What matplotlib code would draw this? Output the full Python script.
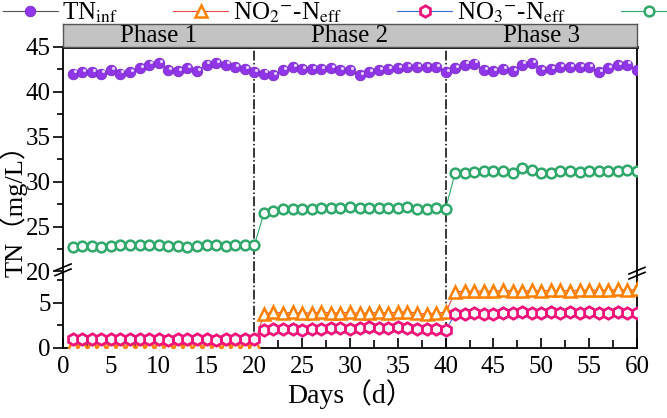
import numpy as np
import matplotlib
matplotlib.use("Agg")
import matplotlib.pyplot as plt
from matplotlib import transforms

plt.rcParams['font.family'] = ['Liberation Serif', 'Noto Sans CJK SC']
plt.rcParams['mathtext.fontset'] = 'stix'

days = list(range(1, 61))

tn_inf = [42.0, 42.2, 42.2, 42.0, 42.4, 42.0, 42.2, 42.6, 43.0, 43.2,
          42.4, 42.3, 42.6, 42.3, 43.0, 43.2, 43.0, 42.7, 42.5, 42.2,
          42.0, 41.8, 42.4, 42.7, 42.5, 42.5, 42.5, 42.6, 42.4, 42.4,
          41.8, 42.2, 42.4, 42.5, 42.6, 42.75, 42.75, 42.7, 42.75, 42.2,
          42.6, 43.0, 43.1, 42.4, 42.3, 42.5, 42.3, 43.0, 43.2, 42.4,
          42.5, 42.7, 42.7, 42.7, 42.7, 42.2, 42.6, 42.9, 43.0, 42.4]
tn_eff = [22.7, 22.8, 22.8, 22.7, 22.8, 22.9, 22.9, 23.0, 23.0, 22.9,
          22.8, 22.8, 22.7, 22.8, 22.9, 22.9, 22.8, 22.9, 23.0, 22.9,
          26.5, 26.7, 26.95, 26.95, 26.9, 26.95, 27.1, 27.05, 27.1, 27.2,
          27.05, 27.05, 27.05, 27.05, 27.1, 27.2, 26.95, 26.9, 27.1, 27.0,
          31.0, 31.0, 31.1, 31.2, 31.2, 31.2, 31.0, 31.45, 31.3, 31.0,
          31.0, 31.2, 31.2, 31.1, 31.2, 31.2, 31.2, 31.2, 31.3, 31.2]
no2_eff = [0.35, 0.35, 0.3, 0.35, 0.35, 0.3, 0.35, 0.35, 0.3, 0.35,
           0.35, 0.3, 0.35, 0.35, 0.3, 0.35, 0.35, 0.3, 0.35, 0.4,
           3.8, 3.95, 3.9, 3.95, 3.9, 3.9, 4.0, 3.9, 3.9, 3.95,
           3.85, 3.9, 3.95, 3.9, 3.95, 4.05, 3.85, 3.8, 3.9, 3.95,
           6.2, 6.35, 6.3, 6.35, 6.3, 6.4, 6.35, 6.3, 6.4, 6.35,
           6.4, 6.4, 6.35, 6.45, 6.4, 6.45, 6.4, 6.5, 6.45, 6.5]
no3_eff = [0.95, 1.0, 1.0, 0.95, 1.0, 0.95, 1.0, 1.05, 0.95, 0.95,
           0.9, 0.95, 1.0, 0.95, 0.95, 0.9, 0.95, 1.0, 0.95, 1.0,
           2.05, 2.15, 2.1, 2.15, 2.05, 2.1, 2.1, 2.2, 2.25, 2.15,
           2.2, 2.3, 2.2, 2.25, 2.3, 2.2, 2.15, 2.1, 2.1, 2.0,
           3.75, 3.8, 3.85, 3.8, 3.8, 3.85, 3.9, 3.95, 3.9, 3.85,
           3.95, 3.9, 3.95, 3.9, 3.95, 3.9, 3.9, 3.95, 3.9, 3.9]

phases = ['Phase 1', 'Phase 2', 'Phase 3']
phase_mid = [10, 30, 50]
phase_bounds = [20, 40]

purple = '#9036e8'
green = '#2fa86a'
orange = '#ff8000'
magenta = '#f0147a'

fig = plt.figure(figsize=(6.67, 4.18), dpi=100)
L, W = 0.0945, 0.8605
ax_lo = fig.add_axes([L, 0.1675, W, 0.183])
ax_hi = fig.add_axes([L, 0.3505, W, 0.538])
ax_band = fig.add_axes([L, 0.8887, W, 0.055])

fs = 18

# upper panel
ax_hi.plot(days, tn_inf, '-', color='#555555', lw=0.8, marker='o', ms=7.6,
           mfc=purple, mec='#7a2cc8', mew=0.6, zorder=3)
hl = transforms.offset_copy(ax_hi.transData, fig=fig, x=1.4, y=1.6, units='points')
ax_hi.plot(days, tn_inf, ls='none', marker='o', ms=2.3, mfc='#e4d0ff', mec='none',
           transform=hl, zorder=4)
ax_hi.plot(days, tn_eff, '-', color=green, lw=0.8, marker='o', ms=7.0,
           mfc='white', mec=green, mew=1.8, zorder=3)
ax_hi.set_ylim(20, 45)
ax_hi.set_yticks([20, 25, 30, 35, 40, 45])
ax_hi.set_yticks(np.arange(22.5, 45, 5), minor=True)

# lower panel
ax_lo.plot(days, no2_eff, '-', color='#e84848', lw=0.8, marker='^', ms=9.0,
           mfc='white', mec=orange, mew=1.8, zorder=3)
ax_lo.plot(days, no3_eff, '-', color='#3a6ad8', lw=0.8, marker='h', ms=8.2,
           mfc='white', mec=magenta, mew=2.0, zorder=4)
ax_lo.set_ylim(0, 8.5)
ax_lo.set_yticks([0, 5])
ax_lo.set_yticks([2.5, 7.5], minor=True)

for ax in (ax_hi, ax_lo):
    ax.set_xlim(0, 60)
    for xb in phase_bounds:
        ax.axvline(xb, color='black', ls='-.', lw=1.1, zorder=2)
    for s in ax.spines.values():
        s.set_linewidth(1.3)
    ax.tick_params(axis='y', which='both', direction='out', labelsize=fs, width=1.2,
                   right=False, pad=2)
    ax.tick_params(axis='y', which='major', length=7)
    ax.tick_params(axis='y', which='minor', length=4)

ax_hi.spines['bottom'].set_visible(False)
ax_hi.spines['top'].set_linewidth(2)
ax_lo.spines['top'].set_visible(False)
ax_hi.set_xticks([])
ax_hi.tick_params(axis='x', which='both', bottom=False, labelbottom=False)
ax_lo.set_xticks(np.arange(0, 61, 5))
ax_lo.set_xticks(np.arange(2.5, 60, 5), minor=True)
ax_lo.tick_params(axis='x', which='both', direction='in', labelsize=fs, width=1.2, top=False, pad=6)
ax_lo.tick_params(axis='x', which='major', length=7)
ax_lo.tick_params(axis='x', which='minor', length=6)

# break marks
for xf, yf in [(L, 0.3505 + 0.004), (L + W, 0.3505 - 0.004)]:
    for dy in (-0.006, 0.006):
        fig.add_artist(plt.Line2D([xf - 0.012, xf + 0.012], [yf + dy - 0.008, yf + dy + 0.008],
                                  color='black', lw=1.2, transform=fig.transFigure))

# phase band
ax_band.set_xlim(0, 60)
ax_band.set_ylim(0, 1)
ax_band.set_facecolor('#c3c3c3')
ax_band.set_xticks([])
ax_band.set_yticks([])
for s in ax_band.spines.values():
    s.set_color('#555555')
    s.set_linewidth(1.0)
for name, xm in zip(phases, phase_mid):
    ax_band.text(xm, 0.45, name, ha='center', va='center', fontsize=fs)

fig.text(0.525, 0.058, 'Days（d）', ha='center', va='center', fontsize=20)
fig.text(0.021, 0.51, 'TN（mg/L）', ha='center', va='center', fontsize=19, rotation=90)

handles = ax_hi.lines[:1] + ax_lo.lines[:2] + [ax_hi.lines[2]]
labels = ['TN$_{\\mathrm{inf}}$', 'NO$_2$$^{-}$-N$_{\\mathrm{eff}}$',
          'NO$_3$$^{-}$-N$_{\\mathrm{eff}}$', 'TN$_{\\mathrm{eff}}$']
fig.legend(handles, labels, loc='upper left', bbox_to_anchor=(0.0, 1.005), ncol=4,
           frameon=False, fontsize=fs, handlelength=2.2, handletextpad=0.2,
           columnspacing=2.2, borderaxespad=0, borderpad=0.1)

fig.savefig('out.png', dpi=100)
